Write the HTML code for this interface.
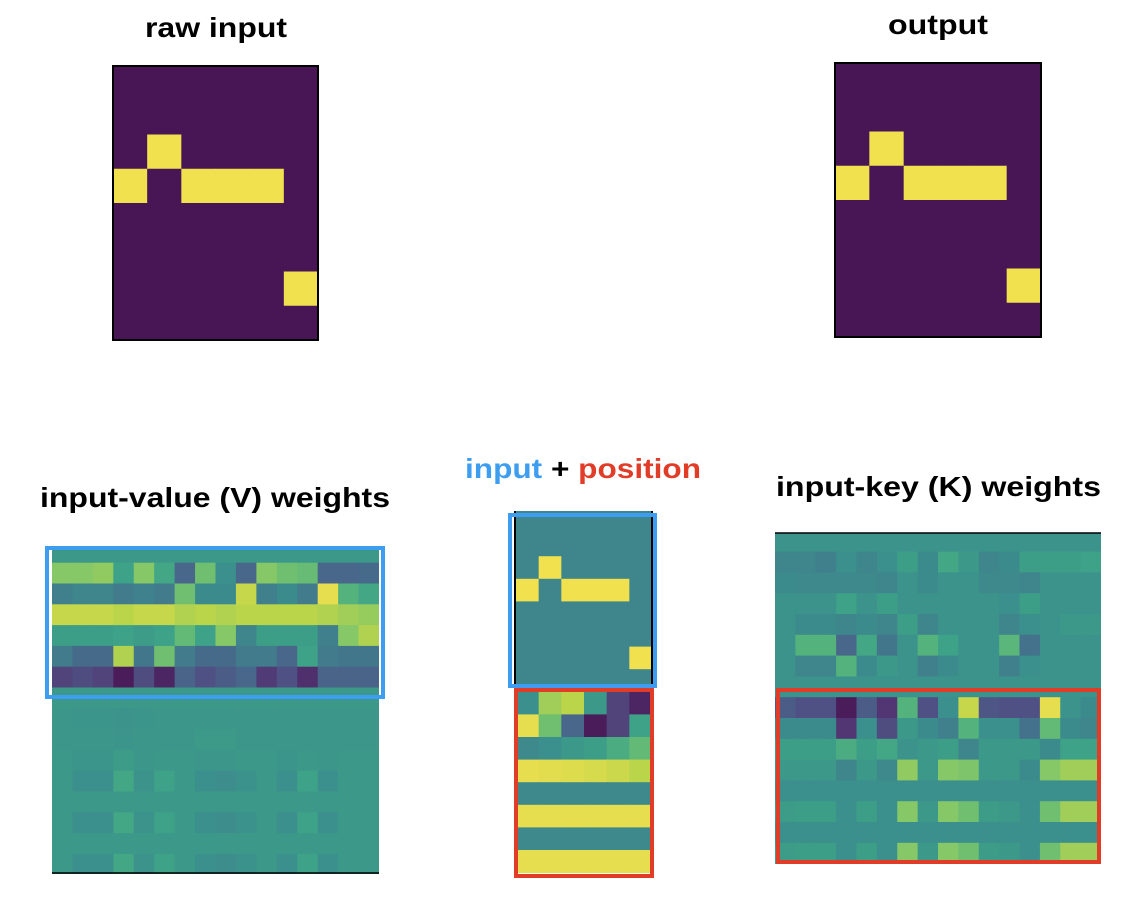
<!DOCTYPE html>
<html><head><meta charset="utf-8"><style>
html,body{margin:0;padding:0;background:#fff;}
svg{display:block;font-family:"Liberation Sans",sans-serif;font-weight:bold;}
</style></head><body>
<svg id="fig" width="1132" height="898" viewBox="0 0 1132 898" xmlns="http://www.w3.org/2000/svg">
<defs>
<clipPath id="clipV"><rect x="52" y="550" width="327" height="324"/></clipPath>
<clipPath id="clipK"><rect x="775" y="533" width="326" height="331"/></clipPath>
</defs>
<text x="145" y="37" font-size="28" textLength="142" lengthAdjust="spacingAndGlyphs">raw input</text>
<text x="888" y="34" font-size="28" textLength="100" lengthAdjust="spacingAndGlyphs">output</text>
<text x="40" y="507" font-size="28" textLength="350" lengthAdjust="spacingAndGlyphs">input-value (V) weights</text>
<text x="465" y="478" font-size="28" textLength="236" lengthAdjust="spacingAndGlyphs"><tspan fill="#3d9df0">input</tspan> + <tspan fill="#e03c28">position</tspan></text>
<text x="776" y="496" font-size="28" textLength="325" lengthAdjust="spacingAndGlyphs">input-key (K) weights</text>
<g id="g-raw"></g>
<g id="g-out"></g>
<g id="g-v" clip-path="url(#clipV)"></g>
<g id="g-mid"></g>
<g id="g-k" clip-path="url(#clipK)"></g>
<rect x="113" y="66" width="205" height="274" fill="none" stroke="#000" stroke-width="2"/>
<rect x="835" y="63" width="206" height="274" fill="none" stroke="#000" stroke-width="2"/>
<line x1="52" y1="873" x2="379" y2="873" stroke="#000" stroke-width="1.5"/>
<line x1="775" y1="533" x2="1101" y2="533" stroke="#000" stroke-width="1.5"/>
<line x1="515" y1="511" x2="515" y2="876" stroke="#000" stroke-width="2"/>
<line x1="652" y1="511" x2="652" y2="876" stroke="#000" stroke-width="2"/>
<rect x="47" y="548" width="336" height="149" fill="none" stroke="#3d9df0" stroke-width="4"/>
<rect x="510" y="515" width="145" height="171" fill="none" stroke="#3d9df0" stroke-width="4"/>
<rect x="516" y="690" width="136" height="186" fill="none" stroke="#e03c28" stroke-width="4"/>
<rect x="778" y="690" width="321" height="172" fill="none" stroke="#e03c28" stroke-width="4"/>
</svg>
<script>
const rawGrid = [
[0,0,0,0,0,0],[0,0,0,0,0,0],[0,1,0,0,0,0],[1,0,1,1,1,0],
[0,0,0,0,0,0],[0,0,0,0,0,0],[0,0,0,0,0,1],[0,0,0,0,0,0]];
const outGrid = [
[0,0,0,0,0,0],[0,0,0,0,0,0],[0,1,0,0,0,0],[1,0,1,1,1,0],
[0,0,0,0,0,0],[0,0,0,0,0,0],[0,0,0,0,0,1],[0,0,0,0,0,0]];
const midInput = [
[0.45,0.45,0.45,0.45,0.45,0.45],[0.45,0.45,0.45,0.45,0.45,0.45],[0.45,1,0.45,0.45,0.45,0.45],[1,0.45,1,1,1,0.45],
[0.45,0.45,0.45,0.45,0.45,0.45],[0.45,0.45,0.45,0.45,0.45,0.45],[0.45,0.45,0.45,0.45,0.45,1],[0.45,0.45,0.45,0.45,0.45,0.45]];
const midPosition = [
[0.5,0.85,0.9,0.55,0.15,0.05],[0.98,0.75,0.3,0.02,0.15,0.6],[0.47,0.5,0.55,0.58,0.65,0.72],[0.98,0.97,0.96,0.95,0.93,0.9],
[0.47,0.47,0.47,0.47,0.47,0.47],[0.98,0.98,0.98,0.98,0.98,0.98],[0.47,0.47,0.47,0.47,0.47,0.47],[0.98,0.98,0.98,0.98,0.98,0.98]];
const vWeights = [
[0.55,0.55,0.55,0.55,0.55,0.55,0.55,0.55,0.55,0.55,0.55,0.55,0.55,0.55,0.55,0.55],
[0.8,0.8,0.82,0.6,0.8,0.62,0.3,0.75,0.5,0.3,0.8,0.75,0.73,0.3,0.3,0.32],
[0.42,0.45,0.45,0.4,0.43,0.4,0.75,0.48,0.48,0.92,0.42,0.48,0.4,0.98,0.68,0.62],
[0.92,0.92,0.92,0.9,0.92,0.92,0.88,0.9,0.88,0.9,0.9,0.9,0.9,0.88,0.85,0.83],
[0.58,0.58,0.58,0.6,0.57,0.6,0.72,0.6,0.8,0.45,0.58,0.58,0.58,0.42,0.8,0.88],
[0.4,0.32,0.32,0.88,0.38,0.75,0.4,0.32,0.32,0.4,0.4,0.3,0.6,0.4,0.38,0.38],
[0.15,0.18,0.15,0.02,0.18,0.05,0.28,0.2,0.25,0.3,0.12,0.2,0.08,0.28,0.28,0.28],
[0.55,0.55,0.55,0.55,0.55,0.55,0.55,0.55,0.55,0.55,0.55,0.55,0.55,0.55,0.55,0.55],
[0.54,0.53,0.53,0.52,0.53,0.54,0.54,0.54,0.54,0.54,0.54,0.54,0.54,0.54,0.54,0.54],
[0.54,0.54,0.54,0.53,0.54,0.54,0.54,0.56,0.56,0.54,0.54,0.54,0.54,0.54,0.54,0.54],
[0.55,0.53,0.53,0.57,0.54,0.55,0.55,0.54,0.54,0.55,0.55,0.53,0.55,0.54,0.55,0.55],
[0.55,0.5,0.5,0.62,0.52,0.6,0.55,0.5,0.49,0.51,0.55,0.5,0.6,0.5,0.55,0.55],
[0.55,0.55,0.55,0.55,0.55,0.55,0.55,0.55,0.55,0.55,0.55,0.55,0.55,0.55,0.55,0.55],
[0.55,0.5,0.5,0.62,0.52,0.6,0.55,0.5,0.49,0.51,0.55,0.5,0.6,0.5,0.55,0.55],
[0.55,0.55,0.55,0.55,0.55,0.55,0.55,0.55,0.55,0.55,0.55,0.55,0.55,0.55,0.55,0.55],
[0.55,0.5,0.5,0.62,0.52,0.6,0.55,0.5,0.49,0.51,0.55,0.5,0.6,0.5,0.55,0.55]];
const kWeights = [
[0.52,0.52,0.52,0.52,0.52,0.52,0.52,0.52,0.52,0.52,0.52,0.52,0.52,0.52,0.52,0.52],
[0.45,0.45,0.42,0.5,0.45,0.5,0.58,0.48,0.62,0.55,0.45,0.48,0.58,0.58,0.58,0.6],
[0.48,0.47,0.47,0.47,0.47,0.45,0.52,0.48,0.52,0.52,0.47,0.47,0.45,0.52,0.52,0.52],
[0.52,0.52,0.52,0.6,0.52,0.58,0.52,0.52,0.52,0.52,0.52,0.5,0.58,0.52,0.52,0.52],
[0.52,0.48,0.48,0.45,0.48,0.45,0.58,0.45,0.52,0.52,0.52,0.45,0.5,0.52,0.55,0.55],
[0.52,0.68,0.68,0.3,0.62,0.38,0.52,0.68,0.6,0.52,0.52,0.7,0.35,0.52,0.52,0.52],
[0.52,0.45,0.45,0.68,0.48,0.55,0.52,0.42,0.48,0.52,0.52,0.42,0.5,0.52,0.52,0.52],
[0.52,0.52,0.52,0.52,0.52,0.52,0.52,0.52,0.52,0.52,0.52,0.52,0.52,0.52,0.52,0.52],
[0.25,0.2,0.2,0.02,0.25,0.1,0.68,0.2,0.5,0.92,0.22,0.2,0.2,0.98,0.52,0.48],
[0.48,0.48,0.48,0.1,0.5,0.18,0.55,0.48,0.42,0.68,0.5,0.5,0.35,0.72,0.48,0.45],
[0.58,0.58,0.58,0.65,0.58,0.62,0.52,0.55,0.58,0.45,0.55,0.55,0.55,0.48,0.6,0.6],
[0.55,0.55,0.55,0.45,0.55,0.47,0.82,0.55,0.8,0.78,0.55,0.55,0.48,0.8,0.85,0.85],
[0.5,0.5,0.5,0.5,0.5,0.5,0.5,0.5,0.5,0.5,0.5,0.5,0.5,0.5,0.5,0.5],
[0.57,0.58,0.58,0.5,0.58,0.5,0.8,0.55,0.8,0.75,0.57,0.55,0.5,0.75,0.85,0.85],
[0.5,0.5,0.5,0.5,0.5,0.5,0.5,0.5,0.5,0.5,0.5,0.5,0.5,0.5,0.5,0.5],
[0.57,0.58,0.58,0.5,0.58,0.5,0.8,0.55,0.8,0.75,0.57,0.55,0.5,0.75,0.85,0.85]];

const VIR = ["#440154","#482475","#414487","#355f8d","#2a788e","#21918c","#22a884","#44bf70","#7ad151","#bddf26","#fde725"];
function hex(h){return [1,3,5].map(i=>parseInt(h.substr(i,2),16));}
function viridis(v){
  v=Math.max(0,Math.min(1,v));
  const p=v*10, i=Math.min(9,Math.floor(p)), t=p-i;
  const a=hex(VIR[i]), b=hex(VIR[i+1]);
  const c=a.map((x,k)=>x+(b[k]-x)*t);
  const g=(c[0]+c[1]+c[2])/3;
  return "rgb("+c.map(x=>Math.round(x*0.75+g*0.25+8)).join(",")+")";
}
const NS="http://www.w3.org/2000/svg";
function drawGrid(gid, grid, x0, y0, cw, ch){
  const g=document.getElementById(gid);
  grid.forEach((row,r)=>row.forEach((v,c)=>{
    const el=document.createElementNS(NS,"rect");
    el.setAttribute("x",(x0+c*cw).toFixed(2));
    el.setAttribute("y",(y0+r*ch).toFixed(2));
    el.setAttribute("width",(cw+0.5).toFixed(2));
    el.setAttribute("height",(ch+0.5).toFixed(2));
    el.setAttribute("fill",viridis(v));
    
    
    g.appendChild(el);
  }));
}
drawGrid("g-raw", rawGrid, 113, 66, 205/6, 274/8);
drawGrid("g-out", outGrid, 835, 63, 206/6, 274/8);
drawGrid("g-v", vWeights, 52, 541.9, 327/16, 20.8);
drawGrid("g-mid", midInput, 516, 511, 136/6, 22.6);
drawGrid("g-mid", midPosition, 516, 511+8*22.6, 136/6, 22.6);
drawGrid("g-k", kWeights, 775, 530.8, 326/16, 20.8);
</script>
</body></html>
